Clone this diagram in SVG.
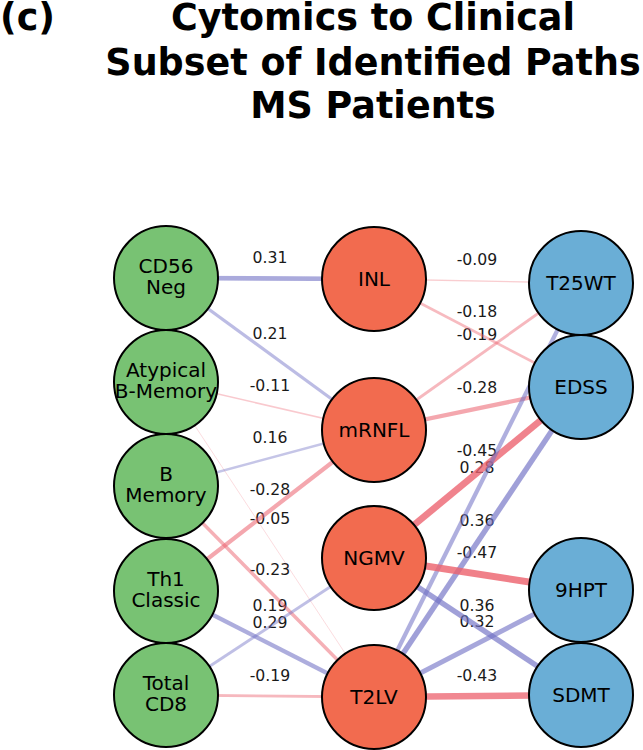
<svg xmlns="http://www.w3.org/2000/svg" width="643" height="750" viewBox="0 0 643 750">
<style>
.title{font-family:"DejaVu Sans",sans-serif;font-weight:bold;font-size:36.5px;fill:#000}
.elab{font-family:"DejaVu Sans",sans-serif;font-size:15.7px;fill:#1a1a1a;text-anchor:middle}
.nlab{font-family:"DejaVu Sans",sans-serif;font-size:20px;fill:#000;text-anchor:middle}
.pos{stroke:#7171c5;fill:none}
.neg{stroke:#ec626e;fill:none}
.node circle{stroke:#000;stroke-width:2}
.g circle{fill:#78c273}
.o circle{fill:#f26b4f}
.b circle{fill:#6aaed6}
</style>
<rect width="643" height="750" fill="#fff"/>
<text class="title" x="0" y="30">(c)</text>
<text class="title" x="373" y="30" text-anchor="middle">Cytomics to Clinical</text>
<text class="title" x="373" y="75" text-anchor="middle">Subset of Identified Paths</text>
<text class="title" x="373" y="118" text-anchor="middle">MS Patients</text>
<g id="edge-labels">
<text class="elab" x="270" y="263">0.31</text>
<text class="elab" x="270" y="338.5">0.21</text>
<text class="elab" x="270" y="390.5">-0.11</text>
<text class="elab" x="270" y="442.5">0.16</text>
<text class="elab" x="270" y="495">-0.28</text>
<text class="elab" x="270" y="523.5">-0.05</text>
<text class="elab" x="270" y="575">-0.23</text>
<text class="elab" x="270" y="610.5">0.19</text>
<text class="elab" x="270" y="628">0.29</text>
<text class="elab" x="270" y="680.5">-0.19</text>
<text class="elab" x="477" y="265">-0.09</text>
<text class="elab" x="477" y="317">-0.18</text>
<text class="elab" x="477" y="340">-0.19</text>
<text class="elab" x="477" y="392.5">-0.28</text>
<text class="elab" x="477" y="456">-0.45</text>
<text class="elab" x="477" y="473">0.28</text>
<text class="elab" x="477" y="526">0.36</text>
<text class="elab" x="477" y="558">-0.47</text>
<text class="elab" x="477" y="610.5">0.36</text>
<text class="elab" x="477" y="627">0.32</text>
<text class="elab" x="477" y="680.5">-0.43</text>
</g>
<g id="connectors">
<line class="pos" x1="166" y1="278" x2="374" y2="279" stroke-width="4.65" stroke-opacity="0.6"/>
<line class="pos" x1="166" y1="278" x2="374" y2="430" stroke-width="3.15" stroke-opacity="0.47"/>
<line class="neg" x1="166" y1="382" x2="374" y2="430" stroke-width="1.65" stroke-opacity="0.34"/>
<line class="neg" x1="166" y1="382" x2="374" y2="697" stroke-width="0.9" stroke-opacity="0.25"/>
<line class="pos" x1="166" y1="486" x2="374" y2="430" stroke-width="2.4" stroke-opacity="0.41"/>
<line class="neg" x1="166" y1="486" x2="374" y2="697" stroke-width="3.45" stroke-opacity="0.5"/>
<line class="neg" x1="166" y1="591" x2="374" y2="430" stroke-width="4.2" stroke-opacity="0.56"/>
<line class="pos" x1="166" y1="591" x2="374" y2="697" stroke-width="4.35" stroke-opacity="0.58"/>
<line class="pos" x1="166" y1="695" x2="374" y2="558" stroke-width="2.85" stroke-opacity="0.45"/>
<line class="neg" x1="166" y1="695" x2="374" y2="697" stroke-width="2.85" stroke-opacity="0.45"/>
<line class="neg" x1="374" y1="279" x2="581" y2="283" stroke-width="1.35" stroke-opacity="0.32"/>
<line class="neg" x1="374" y1="279" x2="581" y2="387" stroke-width="2.7" stroke-opacity="0.43"/>
<line class="neg" x1="374" y1="430" x2="581" y2="283" stroke-width="2.85" stroke-opacity="0.45"/>
<line class="neg" x1="374" y1="430" x2="581" y2="387" stroke-width="4.2" stroke-opacity="0.56"/>
<line class="neg" x1="374" y1="558" x2="581" y2="387" stroke-width="6.75" stroke-opacity="0.79"/>
<line class="pos" x1="374" y1="697" x2="581" y2="283" stroke-width="4.2" stroke-opacity="0.56"/>
<line class="pos" x1="374" y1="697" x2="581" y2="387" stroke-width="5.4" stroke-opacity="0.67"/>
<line class="neg" x1="374" y1="558" x2="581" y2="590" stroke-width="7.05" stroke-opacity="0.81"/>
<line class="pos" x1="374" y1="558" x2="581" y2="695" stroke-width="5.4" stroke-opacity="0.67"/>
<line class="pos" x1="374" y1="697" x2="581" y2="590" stroke-width="4.8" stroke-opacity="0.62"/>
<line class="neg" x1="374" y1="697" x2="581" y2="695" stroke-width="6.45" stroke-opacity="0.76"/>
</g>
<g id="node-cd56neg" class="node g"><circle cx="166" cy="278" r="52"/><text class="nlab" x="166" y="273">CD56</text><text class="nlab" x="166" y="294">Neg</text></g>
<g id="node-atypical" class="node g"><circle cx="166" cy="382" r="52"/><text class="nlab" x="166" y="377">Atypical</text><text class="nlab" x="166" y="398">B-Memory</text></g>
<g id="node-bmemory" class="node g"><circle cx="166" cy="486" r="52"/><text class="nlab" x="166" y="481">B</text><text class="nlab" x="166" y="502">Memory</text></g>
<g id="node-th1" class="node g"><circle cx="166" cy="591" r="52"/><text class="nlab" x="166" y="586">Th1</text><text class="nlab" x="166" y="607">Classic</text></g>
<g id="node-cd8" class="node g"><circle cx="166" cy="695" r="52"/><text class="nlab" x="166" y="690">Total</text><text class="nlab" x="166" y="711">CD8</text></g>
<g id="node-inl" class="node o"><circle cx="374" cy="279" r="52"/><text class="nlab" x="374" y="286">INL</text></g>
<g id="node-mrnfl" class="node o"><circle cx="374" cy="430" r="52"/><text class="nlab" x="374" y="437">mRNFL</text></g>
<g id="node-ngmv" class="node o"><circle cx="374" cy="558" r="52"/><text class="nlab" x="374" y="565">NGMV</text></g>
<g id="node-t2lv" class="node o"><circle cx="374" cy="697" r="52"/><text class="nlab" x="374" y="704">T2LV</text></g>
<g id="node-t25wt" class="node b"><circle cx="581" cy="283" r="52"/><text class="nlab" x="581" y="290">T25WT</text></g>
<g id="node-edss" class="node b"><circle cx="581" cy="387" r="52"/><text class="nlab" x="581" y="394">EDSS</text></g>
<g id="node-9hpt" class="node b"><circle cx="581" cy="590" r="52"/><text class="nlab" x="581" y="597">9HPT</text></g>
<g id="node-sdmt" class="node b"><circle cx="581" cy="695" r="52"/><text class="nlab" x="581" y="702">SDMT</text></g>
</svg>
